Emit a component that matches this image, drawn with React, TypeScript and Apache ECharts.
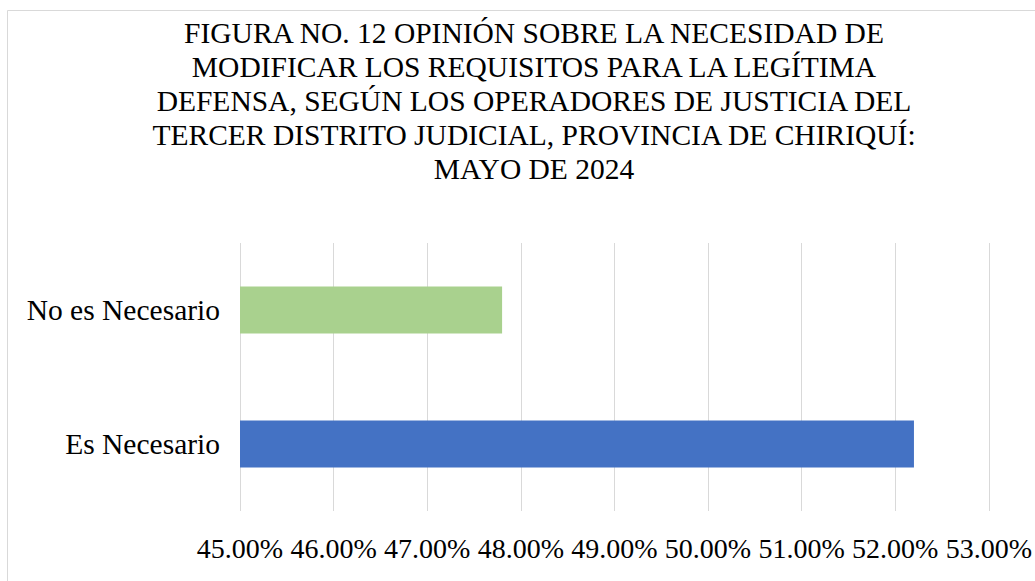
import React, { useEffect, useRef } from "react";
import * as echarts from "echarts";

const titleLines = [
  "FIGURA NO. 12 OPINIÓN SOBRE LA NECESIDAD DE",
  "MODIFICAR LOS REQUISITOS PARA LA LEGÍTIMA",
  "DEFENSA, SEGÚN LOS OPERADORES DE JUSTICIA DEL",
  "TERCER DISTRITO JUDICIAL, PROVINCIA DE CHIRIQUÍ:",
  "MAYO DE 2024",
];
const categories = ["Es Necesario", "No es Necesario"];
const values = [52.2, 47.8];
const barColors = ["#4472C4", "#A9D18E"];
const axisMin = 45;
const axisMax = 53;
const axisStep = 1;

const FONT = "Liberation Serif";

export default function App() {
  const ref = useRef<HTMLDivElement>(null);
  useEffect(() => {
    if (!ref.current) return;
    const chart = echarts.init(ref.current, null, { renderer: "svg" });
    chart.setOption({
      animation: false,
      backgroundColor: "#ffffff",
      graphic: [
        {
          type: "rect",
          shape: { x: 7.5, y: 10.5, width: 1040, height: 600 },
          style: { fill: "none", stroke: "#d9d9d9", lineWidth: 1 },
          silent: true,
        },
        {
          type: "text",
          x: 534,
          y: 16,
          style: {
            text: titleLines.join("\n"),
            fontFamily: FONT,
            fontSize: 29.5,
            lineHeight: 34,
            fill: "#000000",
            align: "center",
            verticalAlign: "top",
          },
        },
      ],
      grid: { left: 240, right: 44, top: 243, bottom: 70, containLabel: false },
      xAxis: {
        type: "value",
        min: axisMin,
        max: axisMax,
        interval: axisStep,
        axisLine: { show: false },
        axisTick: { show: false },
        splitLine: { show: true, lineStyle: { color: "#d9d9d9", width: 1 } },
        axisLabel: {
          margin: 23,
          color: "#000000",
          fontFamily: FONT,
          fontSize: 28,
          formatter: (v: number) => v.toFixed(2) + "%",
        },
      },
      yAxis: {
        type: "category",
        data: categories,
        axisLine: { show: false },
        axisTick: { show: false },
        axisLabel: {
          margin: 20,
          color: "#000000",
          fontFamily: FONT,
          fontSize: 29.5,
        },
      },
      series: [
        {
          type: "bar",
          data: values.map((v, i) => ({ value: v, itemStyle: { color: barColors[i] } })),
          barCategoryGap: "65%",
        },
      ],
    });
    return () => chart.dispose();
  }, []);
  return (
    <div
      ref={ref}
      style={{ position: "fixed", left: 0, top: 0, width: 1035, height: 581 }}
    />
  );
}
